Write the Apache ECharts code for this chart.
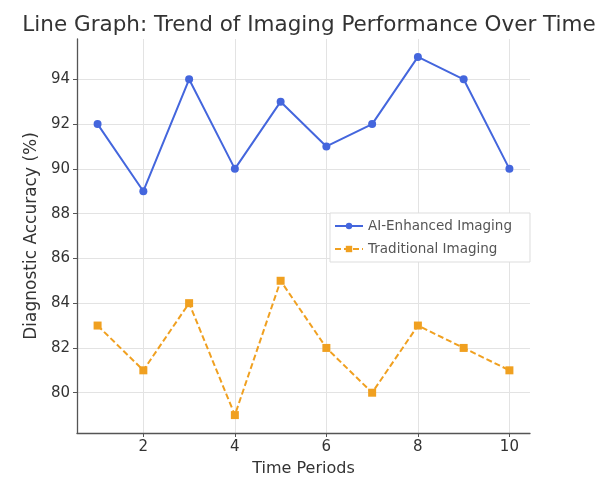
<!DOCTYPE html>
<html>
<head>
<meta charset="utf-8">
<script src="https://cdn.jsdelivr.net/npm/echarts@6/dist/echarts.min.js"></script>
<style>
  html, body { margin: 0; padding: 0; background: #fff; }
  #chart { width: 606px; height: 477px; }
</style>
</head>
<body>
<div id="chart"></div>
<script>
const periods = [1, 2, 3, 4, 5, 6, 7, 8, 9, 10]
const aiEnhanced = [92, 89, 94, 90, 93, 91, 92, 95, 94, 90]
const traditional = [83, 81, 84, 79, 85, 82, 80, 83, 82, 81]
const xTicks = [2, 4, 6, 8, 10]
const yTicks = [80, 82, 84, 86, 88, 90, 92, 94]

const chart = echarts.init(document.getElementById('chart'))
const font = 'DejaVu Sans'

chart.setOption({
  animation: false,
  title: {
    text: 'Line Graph: Trend of Imaging Performance Over Time',
    left: 304, top: 9, textAlign: 'center',
    textStyle: { fontFamily: font, fontSize: 21.5, fontWeight: 'normal', color: '#333' }
  },
  legend: {
    orient: 'vertical',
    left: 330, top: 213,
    itemWidth: 28, itemHeight: 8, itemGap: 9,
    padding: [6, 18, 6, 4],
    backgroundColor: '#fff',
    borderColor: '#ddd', borderWidth: 1,
    textStyle: { fontFamily: font, fontSize: 13.5, color: '#555' },
    data: ['AI-Enhanced Imaging', 'Traditional Imaging']
  },
  grid: { left: 77, right: 76, top: 39, bottom: 44, outerBoundsMode: 'none' },
  xAxis: {
    type: 'value', min: 0.55, max: 10.45,
    name: 'Time Periods', nameLocation: 'middle', nameGap: 28,
    nameTextStyle: { fontFamily: font, fontSize: 16, color: '#333' },
    axisLine: { lineStyle: { color: '#555', width: 1.3 } },
    axisTick: { show: true, length: 4, customValues: xTicks, lineStyle: { color: '#555' } },
    axisLabel: { customValues: xTicks, fontFamily: font, fontSize: 15, color: '#333', margin: 7 },
    splitLine: { show: true, lineStyle: { color: '#e3e3e3' } }
  },
  yAxis: {
    type: 'value', min: 78.2, max: 95.8,
    name: 'Diagnostic Accuracy (%)', nameLocation: 'middle', nameGap: 32,
    nameTextStyle: { fontFamily: font, fontSize: 17, color: '#333' },
    axisLine: { show: true, lineStyle: { color: '#555', width: 1.3 } },
    axisTick: { show: true, length: 4, customValues: yTicks, lineStyle: { color: '#555' } },
    axisLabel: { customValues: yTicks, fontFamily: font, fontSize: 15, color: '#333', margin: 7 },
    splitLine: { show: true, lineStyle: { color: '#e3e3e3' } }
  },
  series: [
    {
      name: 'AI-Enhanced Imaging',
      type: 'line',
      data: periods.map((p, i) => [p, aiEnhanced[i]]),
      symbol: 'circle', symbolSize: 8,
      lineStyle: { color: '#4466dd', width: 2 },
      itemStyle: { color: '#4466dd' }
    },
    {
      name: 'Traditional Imaging',
      type: 'line',
      data: periods.map((p, i) => [p, traditional[i]]),
      symbol: 'rect', symbolSize: 8,
      lineStyle: { color: '#f0a020', width: 2, type: [6, 3] },
      itemStyle: { color: '#f0a020' }
    }
  ]
})
</script>
</body>
</html>
